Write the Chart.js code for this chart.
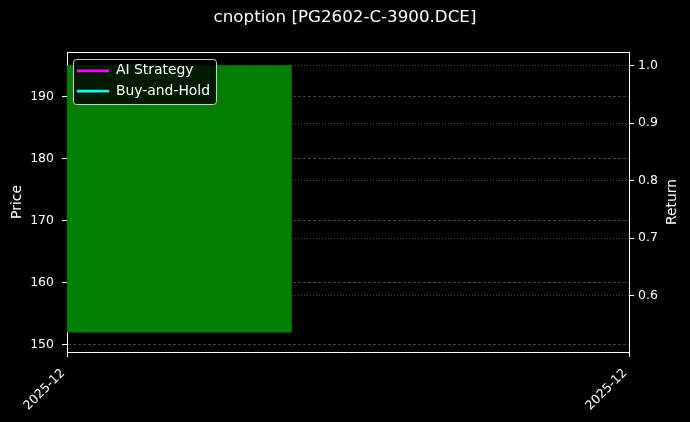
<!DOCTYPE html>
<html>
<head>
<meta charset="utf-8">
<script src="https://cdn.jsdelivr.net/npm/chart.js@4.4.1/dist/chart.umd.min.js"></script>
<style>
    html, body { margin: 0; padding: 0; background: #000; }
    #wrap { width: 690px; height: 422px; }
</style>
</head>
<body>
<div id="wrap"><canvas id="chart"></canvas></div>
<script>
// --- Data ---
const titleText = 'cnoption [PG2602-C-3900.DCE]';
const dateLabels = ['2025-12', '2025-12'];   // x tick labels, one at each end
const datePos = [0, 1];
const barPos = [0.2];                        // centre of the single candle body
const priceLow = [151.9];
const priceHigh = [195.1];
const aiReturn = [1.0];
const holdReturn = [1.0];
const priceTicks = [150, 160, 170, 180, 190];
const returnTicks = [0.6, 0.7, 0.8, 0.9, 1.0];

// --- Style ---
const FONT = 'DejaVu Sans';
const GRID = '#444';
const LEGEND_PAD = 6.4;
Chart.defaults.font.family = FONT;
Chart.defaults.font.size = 12.5;
Chart.defaults.color = '#fff';

// vertical legend in the chart area: move it to the plot's top-left corner,
// then paint a backing box over the bar and redraw the legend on top
const legendBox = {
    id: 'legendBox',
    afterLayout(chart) {
        const lg = chart.legend;
        const area = chart.chartArea;
        lg.left = area.left + 3.6;
        lg.top = area.top + 5.4;
    },
    afterDatasetsDraw(chart) {
        const lg = chart.legend;
        if (!lg || !lg.legendItems || !lg.legendItems.length) return;
        const n = lg.legendItems.length;
        const fs = lg.options.labels.font.size || 13.9;
        const maxW = Math.max(...lg.legendHitBoxes.map(h => h.width));
        const left = lg.left + LEGEND_PAD - 4;
        const top = lg.top + LEGEND_PAD - 4.5;
        const right = lg.left + LEGEND_PAD + maxW + 6;
        const bottom = lg.top + LEGEND_PAD + n * fs + (n - 1) * LEGEND_PAD + 6;
        const ctx = chart.ctx;
        ctx.save();
        ctx.beginPath();
        ctx.roundRect(Math.round(left) + 0.5, Math.round(top) + 0.5, Math.round(right - left), Math.round(bottom - top), 3);
        ctx.fillStyle = 'rgba(0,0,0,0.8)';
        ctx.fill();
        ctx.strokeStyle = '#ccc';
        ctx.lineWidth = 1;
        ctx.stroke();
        ctx.restore();
        lg.draw();
    }
};

// right axis title reads bottom-to-top like the left one
const rightTitle = {
    id: 'rightTitle',
    afterDraw(chart) {
        const s = chart.scales.y2;
        const ctx = chart.ctx;
        ctx.save();
        ctx.translate(s.right - 18, (chart.chartArea.top + chart.chartArea.bottom) / 2);
        ctx.rotate(-Math.PI / 2);
        ctx.font = `13.9px "${FONT}"`;
        ctx.fillStyle = '#fff';
        ctx.textAlign = 'center';
        ctx.textBaseline = 'middle';
        ctx.fillText('Return', 0, 0);
        ctx.restore();
    }
};

const setTicks = vals => scale => { scale.ticks = vals.map(v => ({ value: v })); };

new Chart(document.getElementById('chart'), {
    data: {
        datasets: [
            {
                type: 'bar',
                label: 'Price',
                data: barPos.map((x, i) => ({ x: x, y: [priceLow[i], priceHigh[i]] })),
                backgroundColor: '#008000',
                borderWidth: 0,
                categoryPercentage: 1,
                barPercentage: 0.4,
                yAxisID: 'y'
            },
            {
                type: 'line',
                label: 'AI Strategy',
                data: aiReturn.map((v, i) => ({ x: datePos[i], y: v })),
                borderColor: '#ff00ff',
                backgroundColor: '#ff00ff',
                borderWidth: 2.8,
                pointRadius: 0,
                pointStyle: 'line',
                yAxisID: 'y2'
            },
            {
                type: 'line',
                label: 'Buy-and-Hold',
                data: holdReturn.map((v, i) => ({ x: datePos[i], y: v })),
                borderColor: '#00ffff',
                backgroundColor: '#00ffff',
                borderWidth: 2.8,
                pointRadius: 0,
                pointStyle: 'line',
                yAxisID: 'y2'
            }
        ]
    },
    options: {
        responsive: true,
        maintainAspectRatio: false,
        animation: false,
        layout: { padding: 0 },
        scales: {
            x: {
                type: 'linear',
                offset: false,
                min: datePos[0],
                max: datePos[datePos.length - 1],
                afterBuildTicks: setTicks(datePos),
                afterFit: s => { s.height = 70; },
                ticks: {
                    autoSkip: false,
                    minRotation: 45,
                    maxRotation: 45,
                    padding: 9,
                    labelOffset: -4,
                    callback: (v, i) => dateLabels[i]
                },
                grid: { offset: false, drawOnChartArea: false, tickLength: 5, tickColor: '#fff', tickBorderDash: [] },
                border: { color: '#fff', width: 1 }
            },
            xTop: {
                type: 'linear',
                position: 'top',
                offset: false,
                min: 0,
                max: 1,
                afterFit: s => { s.height = 0; },
                ticks: { display: false },
                grid: { display: false },
                border: { color: '#fff', width: 1 }
            },
            y: {
                type: 'linear',
                position: 'left',
                min: 148.76,
                max: 197.22,
                afterBuildTicks: setTicks(priceTicks),
                afterFit: s => { s.width = 67; },
                ticks: { padding: 8 },
                title: { display: true, text: 'Price', color: '#fff', font: { size: 13.9 }, padding: { top: 8.7, bottom: 0 } },
                grid: { color: GRID, tickLength: 5, tickColor: '#fff', tickBorderDash: [] },
                border: { color: '#fff', width: 1, dash: [3, 2] }
            },
            y2: {
                type: 'linear',
                position: 'right',
                min: 0.5021,
                max: 1.0238,
                afterBuildTicks: setTicks(returnTicks),
                afterFit: s => { s.width = 61; },
                ticks: { padding: 4, callback: v => v.toFixed(1) },
                grid: { color: GRID, tickLength: 5, tickColor: '#fff', tickBorderDash: [] },
                border: { color: '#fff', width: 1, dash: [1, 2] }
            }
        },
        plugins: {
            title: {
                display: true,
                text: titleText,
                color: '#fff',
                font: { size: 16.7, weight: 'normal' },
                padding: { top: 8, bottom: 24 }
            },
            legend: {
                position: 'chartArea',
                align: 'start',
                labels: {
                    color: '#fff',
                    font: { size: 13.9 },
                    usePointStyle: true,
                    pointStyleWidth: 32,
                    padding: LEGEND_PAD,
                    filter: item => item.datasetIndex > 0
                }
            },
            tooltip: { enabled: false }
        }
    },
    plugins: [legendBox, rightTitle]
});
</script>
</body>
</html>
